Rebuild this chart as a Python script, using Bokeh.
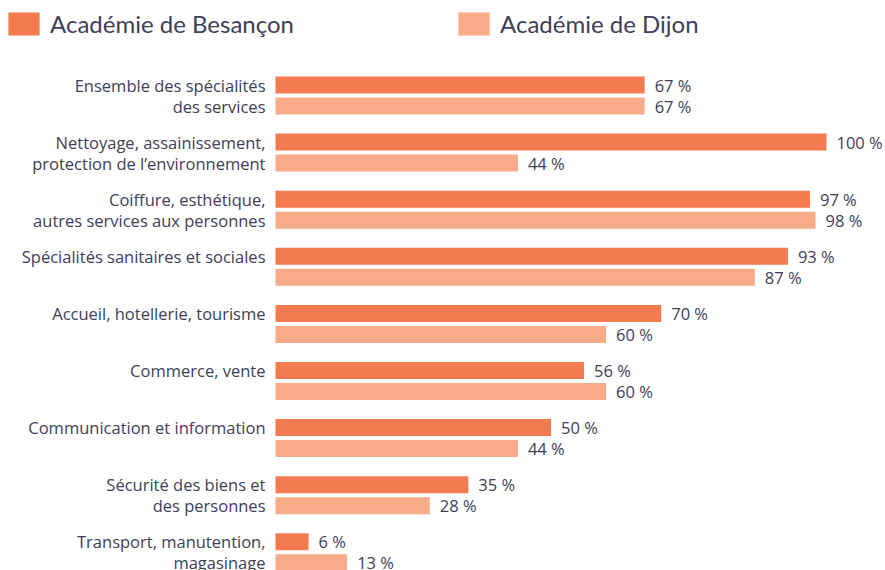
from bokeh.plotting import figure
from bokeh.models import ColumnDataSource, Range1d, Legend, LegendItem
from bokeh.core.properties import value
from bokeh.embed import file_html
from bokeh.resources import INLINE
import numpy as np

categories = [
    "Ensemble des spécialités\ndes services",
    "Nettoyage, assainissement,\nprotection de l’environnement",
    "Coiffure, esthétique,\nautres services aux personnes",
    "Spécialités sanitaires et sociales",
    "Accueil, hotellerie, tourisme",
    "Commerce, vente",
    "Communication et information",
    "Sécurité des biens et\ndes personnes",
    "Transport, manutention,\nmagasinage",
]
besancon = [67, 100, 97, 93, 70, 56, 50, 35, 6]
dijon = [67, 44, 98, 87, 60, 60, 44, 28, 13]
series_names = ["Académie de Besançon", "Académie de Dijon"]

C1 = "#f37a51"
C2 = "#f8ab89"
TXT = "#403e58"
FONT = "Open Sans"
FS = "16.5px"

W, H = 885, 570
px_per_unit_x = 5.51
x0_px = 275
px_per_cat = 57.1
y0_px = 95

p = figure(width=W, height=H, output_backend="svg", toolbar_location=None,
           x_range=Range1d(-x0_px / px_per_unit_x, (W - x0_px) / px_per_unit_x),
           y_range=Range1d((H - y0_px) / px_per_cat, -y0_px / px_per_cat),
           min_border=0, min_border_left=0, min_border_right=0,
           min_border_top=0, min_border_bottom=0)
p.axis.visible = False
p.grid.visible = False
p.outline_line_color = None
p.background_fill_color = "white"
p.border_fill_color = "white"

idx = np.arange(len(categories))
off = 10.5 / px_per_cat
bh = 17 / px_per_cat

src1 = ColumnDataSource(dict(y=idx - off, v=besancon, lab=[f"{v} %" for v in besancon]))
src2 = ColumnDataSource(dict(y=idx + off, v=dijon, lab=[f"{v} %" for v in dijon]))

r1 = p.hbar(y="y", left=0, right="v", height=bh, source=src1, fill_color=C1, line_color=None)
r2 = p.hbar(y="y", left=0, right="v", height=bh, source=src2, fill_color=C2, line_color=None)

for s in (src1, src2):
    p.text(x="v", y="y", text="lab", source=s, x_offset=10, text_align="left",
           text_baseline="middle", text_color=TXT, text_font=value(FONT),
           text_font_size=FS)

line1 = [c.split("\n")[0] for c in categories]
line2 = [c.split("\n")[1] if "\n" in c else "" for c in categories]
lsrc = ColumnDataSource(dict(y1=idx - off, y2=idx + off, t1=line1, t2=line2, x=np.zeros(len(idx))))
p.text(x="x", y="y1", text="t1", source=lsrc, x_offset=-10, text_align="right",
       text_baseline="middle", text_color=TXT, text_font=value(FONT), text_font_size=FS)
p.text(x="x", y="y2", text="t2", source=lsrc, x_offset=-10, text_align="right",
       text_baseline="middle", text_color=TXT, text_font=value(FONT), text_font_size=FS)

legend = Legend(items=[LegendItem(label=series_names[0], renderers=[r1]),
                       LegendItem(label=series_names[1], renderers=[r2])],
                location="top_left", orientation="horizontal",
                glyph_width=39, glyph_height=29, label_standoff=7,
                label_width=394, label_height=38, spacing=10, padding=5, margin=4,
                label_text_font="Lato", label_text_font_size="24px",
                label_text_color=TXT, border_line_color=None,
                background_fill_alpha=0)
p.add_layout(legend, "center")

open("out.html", "w").write(file_html(p, INLINE))
